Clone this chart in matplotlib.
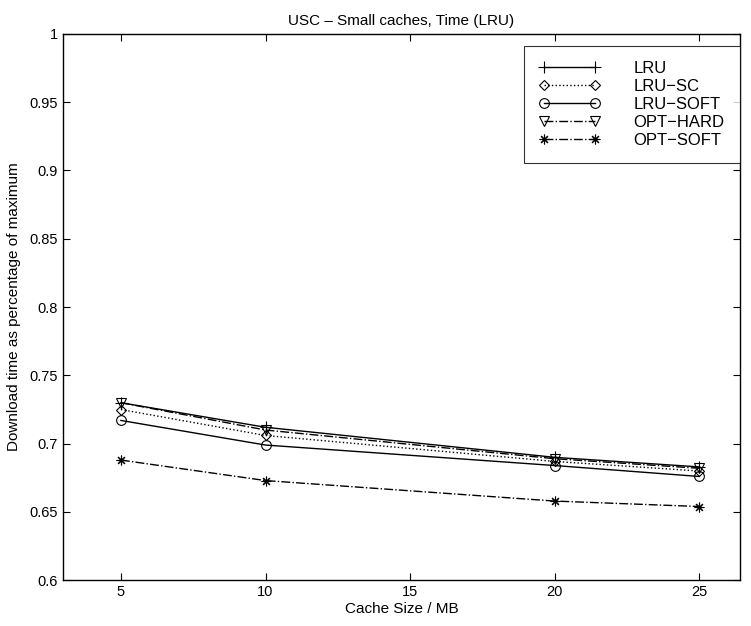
import numpy as np
import matplotlib
matplotlib.use('Agg')
import matplotlib.pyplot as plt

plt.rcParams['font.family'] = ['Liberation Sans', 'DejaVu Sans']

# cache sizes (MB)
cache_mb = [5, 10, 20, 25]

lru      = [0.730, 0.712, 0.690, 0.683]
lru_sc   = [0.725, 0.706, 0.687, 0.680]
lru_soft = [0.717, 0.699, 0.684, 0.676]
opt_hard = [0.730, 0.710, 0.689, 0.682]
opt_soft = [0.688, 0.673, 0.658, 0.654]

series_names = ['LRU', 'LRU\u2212SC', 'LRU\u2212SOFT', 'OPT\u2212HARD', 'OPT\u2212SOFT']
x_ticks = [5, 10, 15, 20, 25]
y_ticks = [0.6, 0.65, 0.7, 0.75, 0.8, 0.85, 0.9, 0.95, 1]
y_tick_labels = ['0.6', '0.65', '0.7', '0.75', '0.8', '0.85', '0.9', '0.95', '1']

fig = plt.figure(figsize=(7.51, 6.26), dpi=100)
ax = fig.add_axes([0.084, 0.073, 0.901, 0.873])

asterisk = (8, 2, 0)
styles = [
    dict(ls='-', marker='+', ms=8),
    dict(ls=':', marker='D', ms=5.5, mfc='none'),
    dict(ls='-', marker='o', ms=7, mfc='none'),
    dict(ls='-.', marker='v', ms=7, mfc='none'),
    dict(ls='-.', marker=asterisk, ms=7),
]
data = [lru, lru_sc, lru_soft, opt_hard, opt_soft]
for name, ys, st in zip(series_names, data, styles):
    ax.plot(cache_mb, ys, color='black', lw=1.0, mew=0.8, label=name, **st)

ax.set_xlim(3.0, 26.4)
ax.set_ylim(0.6, 1.0)
ax.set_xticks(x_ticks)
ax.set_yticks(y_ticks)
ax.set_yticklabels(y_tick_labels)
ax.tick_params(direction='in', length=5, labelsize=10.5, top=True, right=True, width=0.8)
for s in ax.spines.values():
    s.set_linewidth(1.0)

ax.set_xlabel('Cache Size / MB', fontsize=11, labelpad=2)
ax.set_ylabel('Download time as percentage of maximum', fontsize=11, labelpad=6)
ax.set_title('USC \u2013 Small caches, Time (LRU)', fontsize=11, pad=6)

leg = ax.legend(loc='upper right', bbox_to_anchor=(1.0, 0.978), numpoints=2,
                fontsize=12, frameon=True, fancybox=False, edgecolor='black',
                handlelength=3.7, borderaxespad=0.0, labelspacing=0.18,
                handletextpad=2.0, borderpad=0.9)
leg.get_frame().set_linewidth(0.8)

fig.savefig('out.png', dpi=100)
